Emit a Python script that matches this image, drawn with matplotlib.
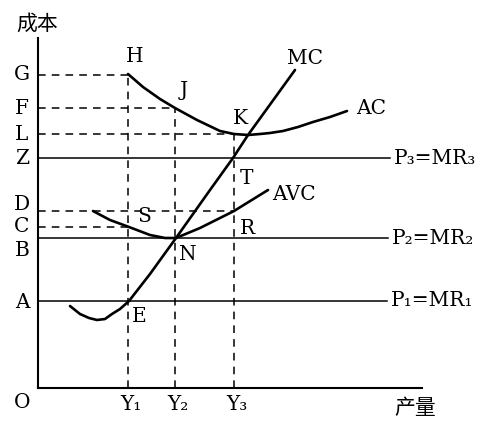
import matplotlib
matplotlib.use("Agg")
import matplotlib.pyplot as plt

# coordinates: quantity to the right of O, cost above O
y_levels = {"G": 313, "F": 280, "L": 254, "Z": 230, "D": 177, "C": 161, "B": 150, "A": 87}
label_y = {"G": 314, "F": 280, "L": 253, "Z": 230, "D": 183, "C": 161, "B": 138, "A": 86}
q_levels = {"Y₁": 90, "Y₂": 137, "Y₃": 196}

ac_x = [90, 105, 122, 137, 159, 182, 196, 210, 222, 232, 245, 260, 275, 292, 309]
ac_y = [314, 301, 289, 280, 268, 257, 254, 253, 254, 255, 257, 261, 266, 271, 277]

mc_x = [32, 42, 51, 59, 67, 74, 82, 91, 112, 138, 172, 195, 210, 257]
mc_y = [82, 74, 70, 68, 69, 74, 79, 87, 114, 150, 198, 230, 253, 318]

avc_x = [55, 72, 91, 112, 127, 138, 162, 196, 230]
avc_y = [177, 168, 161, 153, 150, 150, 160, 177, 198]

price_lines = [("P₃=MR₃", 230, 352), ("P₂=MR₂", 150, 350), ("P₁=MR₁", 87, 349)]

points = [("H", 97, 332), ("J", 146, 297), ("K", 202, 270), ("T", 208, 210),
          ("R", 209, 160), ("S", 106, 172), ("N", 150, 133), ("E", 101, 71)]
curve_names = [("MC", 267, 330), ("AC", 333, 280), ("AVC", 256, 193)]

fig = plt.figure(figsize=(4.8, 4.21), dpi=100)
ax = fig.add_axes([0, 0, 1, 1])
ax.set_xlim(-38, 442)
ax.set_ylim(-33, 388)
ax.axis("off")

font = dict(family=["DejaVu Serif"], fontsize=14.5, color="black")

# axes
ax.plot([0, 0], [0, 350], color="black", lw=1.5)
ax.plot([0, 384], [0, 0], color="black", lw=1.5)

# price lines
for name, y, x_end in price_lines:
    ax.plot([0, x_end], [y, y], color="black", lw=1.1)
    ax.text(x_end + 4, y, name, ha="left", va="center", **font)

# dashed guides
dash = dict(color="black", lw=1.1, linestyle=(0, (5, 4)))
ax.plot([0, q_levels["Y₁"]], [y_levels["G"]] * 2, **dash)
ax.plot([0, q_levels["Y₂"]], [y_levels["F"]] * 2, **dash)
ax.plot([0, q_levels["Y₃"]], [y_levels["L"]] * 2, **dash)
ax.plot([0, q_levels["Y₃"]], [y_levels["D"]] * 2, **dash)
ax.plot([0, q_levels["Y₁"]], [y_levels["C"]] * 2, **dash)
ax.plot([q_levels["Y₁"]] * 2, [0, y_levels["G"]], **dash)
ax.plot([q_levels["Y₂"]] * 2, [0, y_levels["F"]], **dash)
ax.plot([q_levels["Y₃"]] * 2, [0, y_levels["L"]], **dash)

# cost curves
ax.plot(ac_x, ac_y, color="black", lw=1.9, solid_capstyle="round", solid_joinstyle="round")
ax.plot(mc_x, mc_y, color="black", lw=1.9, solid_capstyle="round", solid_joinstyle="round")
ax.plot(avc_x, avc_y, color="black", lw=1.9, solid_capstyle="round", solid_joinstyle="round")

# labels
for k, y in label_y.items():
    ax.text(-16, y, k, ha="center", va="center", **font)
for k, x in q_levels.items():
    ax.text(x + 3, -16, k, ha="center", va="center", **font)
ax.text(-16, -14, "O", ha="center", va="center", **font)
for name, x, y in points + curve_names:
    ax.text(x, y, name, ha="center", va="center", **font)

cjk = dict(family=["Noto Sans CJK SC", "DejaVu Sans"], fontsize=15, color="black")
ax.text(-1, 364, "成本", ha="center", va="center", **cjk)
ax.text(377, -20, "产量", ha="center", va="center", **cjk)

fig.savefig("out.png", dpi=100)
